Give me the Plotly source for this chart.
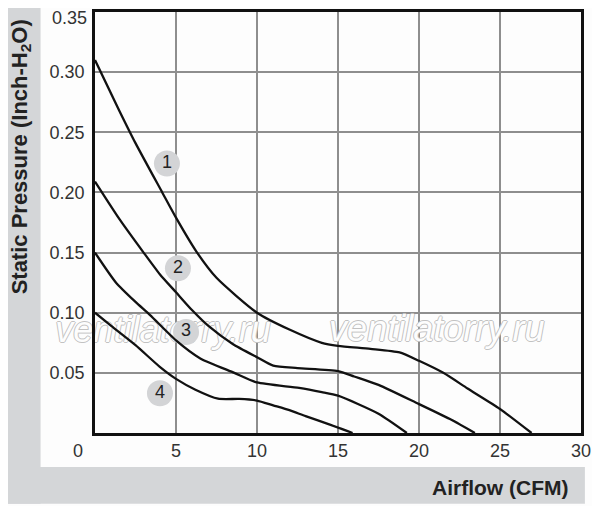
"""
Courbes debit / pression statique d'un ventilateur (4 vitesses)
"""

from plotly.graph_objects import Scatter, Figure

# --- donnees ---
x_1 = [0, 1.5, 2.5, 4.15, 5, 6.25, 7.5, 10, 12, 14, 15, 17, 18.8, 20, 21.5, 23, 25, 26.95]
y_1 = [0.31, 0.268, 0.241, 0.20, 0.179, 0.151, 0.129, 0.10, 0.086, 0.075, 0.0725, 0.070, 0.067, 0.060, 0.050, 0.037, 0.020, 0.0]

x_2 = [0, 1.5, 3, 4, 5, 6, 7, 8.5, 10, 11, 12.5, 15, 16, 17.5, 20, 22, 23.45]
y_2 = [0.209, 0.178, 0.150, 0.132, 0.117, 0.102, 0.089, 0.074, 0.063, 0.056, 0.054, 0.0515, 0.047, 0.040, 0.024, 0.011, 0.0]

x_3 = [0, 1.3, 2.5, 3.4, 5, 6.5, 8.6, 10, 12.6, 14, 15, 17.5, 19.25]
y_3 = [0.150, 0.125, 0.109, 0.098, 0.077, 0.062, 0.050, 0.042, 0.0375, 0.034, 0.031, 0.016, 0.0]

x_4 = [0, 1, 2.5, 4, 5, 6.2, 7.6, 8.9, 10, 11, 12, 13, 14.5, 15.9]
y_4 = [0.100, 0.089, 0.073, 0.055, 0.045, 0.036, 0.0285, 0.0283, 0.027, 0.023, 0.019, 0.014, 0.007, 0.0]

curves = [(x_1, y_1), (x_2, y_2), (x_3, y_3), (x_4, y_4)]

# numeros des courbes
label_text = ["1", "2", "3", "4"]
label_x = [4.44, 5.12, 5.62, 4.01]
label_y = [0.224, 0.137, 0.084, 0.033]

# filigrane
watermark_text = ["ventilatorry.ru", "ventilatorry.ru"]
watermark_x = [4.2, 21.1]
watermark_y = [0.083, 0.084]

x_ticks = [5, 10, 15, 20, 25, 30]
y_ticks = [0.05, 0.10, 0.15, 0.20, 0.25, 0.30]

FONT = "Liberation Sans, Arial, sans-serif"
GRAY_BAND = "#d4d6d8"

fig = Figure()

outline = "1px 0 0 #c2c2c2, -1px 0 0 #c2c2c2, 0 1px 0 #c2c2c2, 0 -1px 0 #c2c2c2"
fig.add_trace(Scatter(x=watermark_x, y=watermark_y, mode="text", text=watermark_text,
                      textposition="middle center", cliponaxis=False, hoverinfo="skip",
                      textfont=dict(family=FONT, size=36, color="#fdfdfd", style="italic",
                                    shadow=outline)))

# pastilles grises avec les numeros
fig.add_trace(Scatter(x=label_x, y=label_y, mode="markers+text", text=label_text,
                      textposition="middle center",
                      marker=dict(size=26, color="#d3d4d6"),
                      textfont=dict(family=FONT, size=18, color="#222222"),
                      hoverinfo="skip", cliponaxis=False))

for cx, cy in curves:
    fig.add_trace(Scatter(x=cx, y=cy, mode="lines",
                          line=dict(color="#111111", width=2.3, shape="spline", smoothing=0.6),
                          hoverinfo="skip"))

# bandes grises autour (titres des axes)
shapes = [
    dict(type="rect", xref="paper", yref="paper", x0=-0.189, x1=-0.112, y0=-0.168, y1=1.03,
         fillcolor=GRAY_BAND, line_width=0, layer="below"),
    dict(type="rect", xref="paper", yref="paper", x0=-0.189, x1=1.008, y0=-0.168, y1=-0.081,
         fillcolor=GRAY_BAND, line_width=0, layer="below"),
]

tick_font = dict(family=FONT, size=18, color="#333333")
annotations = [
    dict(text="Static Pressure (Inch-H<sub>2</sub>O)", xref="paper", yref="paper",
         x=-0.152, y=0.655, xanchor="center", yanchor="middle", textangle=-90, showarrow=False,
         font=dict(family=FONT, size=22, color="#222222", weight="bold")),
    dict(text="Airflow (CFM)", xref="paper", yref="paper", x=0.977, y=-0.13,
         xanchor="right", yanchor="middle", showarrow=False,
         font=dict(family=FONT, size=21, color="#222222", weight="bold")),
    # le 0 commun aux deux axes et le 0.35 colle au bord haut
    dict(text="0", xref="paper", yref="paper", x=-0.035, y=-0.043, xanchor="center", yanchor="middle",
         showarrow=False, font=tick_font),
    dict(text="0.35", xref="paper", yref="paper", x=-0.012, y=0.986, xanchor="right", yanchor="middle",
         showarrow=False, font=tick_font),
]

fig.update_layout(
    width=600, height=506,
    # la page ajoute 8px de marge : on compense ici
    margin=dict(l=87, r=27, t=1, b=81),
    paper_bgcolor="#fdfdfd", plot_bgcolor="#fdfdfd",
    showlegend=False,
    shapes=shapes, annotations=annotations,
    xaxis=dict(range=[0, 30], tickvals=x_ticks, ticks="",
               showgrid=True, gridcolor="#8e8e8e", gridwidth=1.5, zeroline=False,
               showline=True, linecolor="#111111", linewidth=2.5, mirror=True,
               tickfont=tick_font),
    yaxis=dict(range=[0, 0.35], tickvals=y_ticks, tickformat=".2f", ticks="outside", ticklen=4,
               tickcolor="rgba(0,0,0,0)",
               showgrid=True, gridcolor="#8e8e8e", gridwidth=1.5, zeroline=False,
               showline=True, linecolor="#111111", linewidth=2.5, mirror=True,
               tickfont=tick_font),
)

fig.write_html("out.html")
